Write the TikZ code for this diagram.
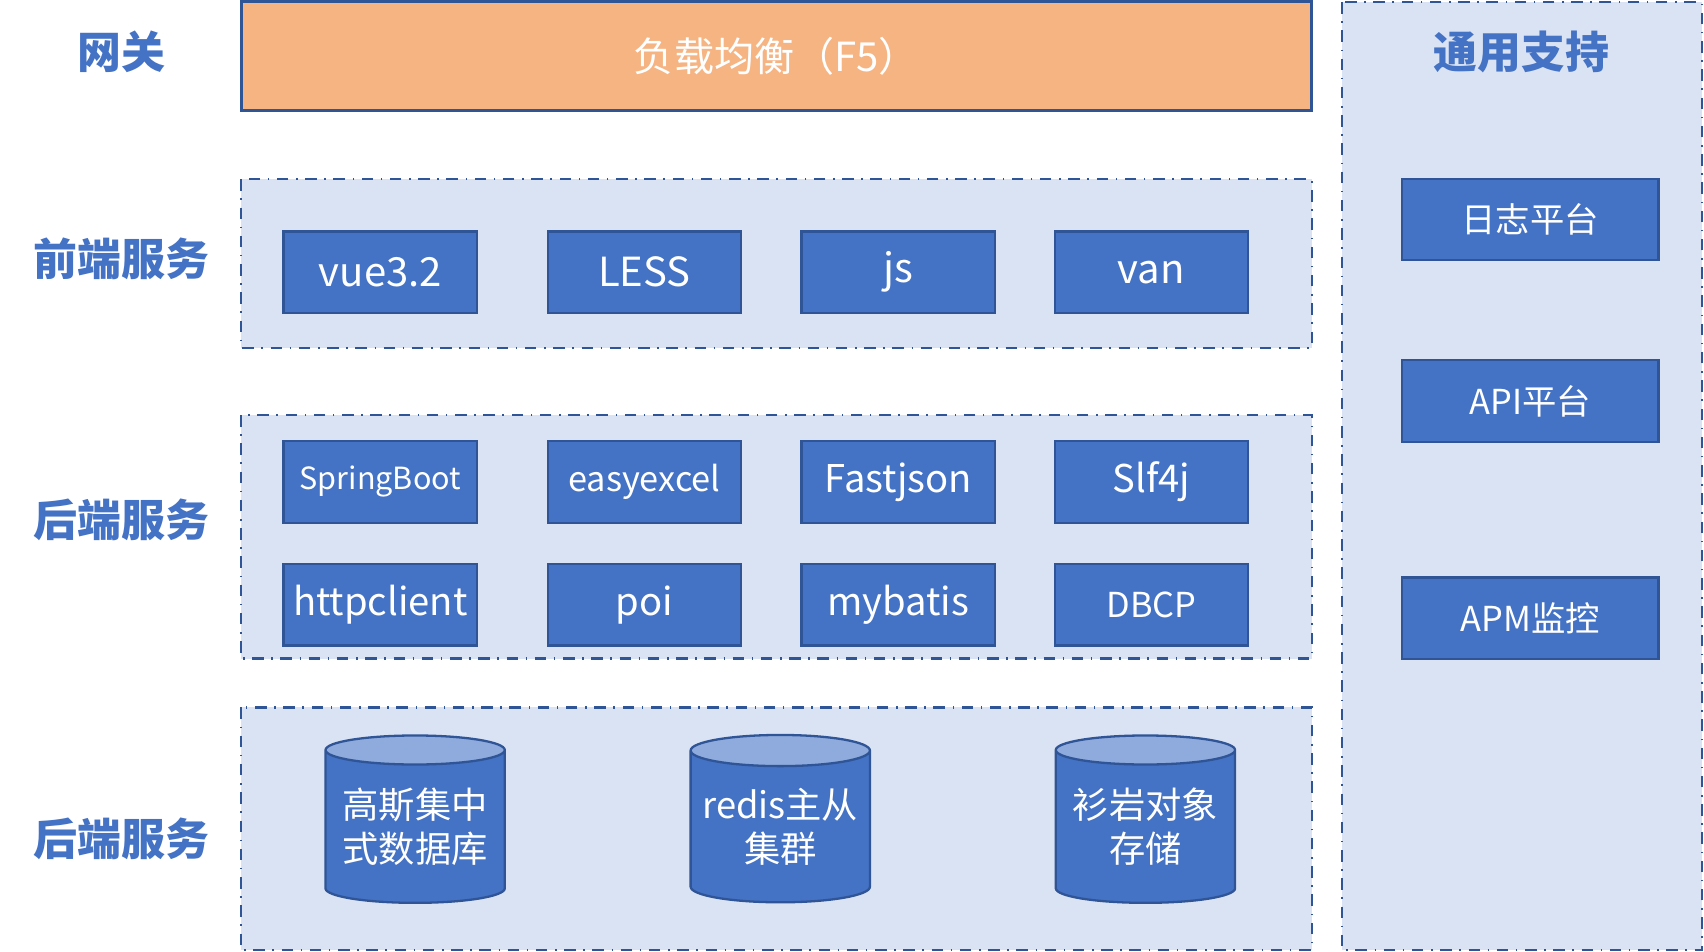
\documentclass[tikz,border=0pt]{standalone}
\usepackage{fontspec}
\setmainfont{Noto Sans CJK SC}
\usetikzlibrary{shapes.geometric}
\definecolor{edge}{HTML}{2F5597}
\definecolor{fillblue}{HTML}{4472C4}
\definecolor{pale}{HTML}{DAE3F3}
\definecolor{topblue}{HTML}{8FAADC}
\definecolor{orange}{HTML}{F5B482}

\begin{document}
\begin{tikzpicture}[x=1cm,y=-1cm,
  group/.style={draw=edge,fill=pale,dash dot,line width=0.6pt},
  item/.style={draw=edge,fill=fillblue,text=white,line width=0.6pt,minimum width=1.78cm,minimum height=0.75cm,font=\fontsize{9}{10}\selectfont,inner sep=0pt},
  side/.style={item,minimum width=2.36cm},
  layer/.style={text=fillblue,font=\fontsize{11.5}{12}\bfseries\selectfont},
  store/.style={cylinder,shape border rotate=90,aspect=0.2,draw=edge,line width=0.6pt,cylinder uses custom fill,cylinder body fill=fillblue,cylinder end fill=topblue,text=white,minimum width=1.65cm,minimum height=1.54cm,align=center,font=\fontsize{9.5}{11.5}\selectfont,inner sep=0pt}]
\useasboundingbox (0,0) rectangle (15.68,8.76);

% support column
\draw[group] (12.35,0.02) rectangle (15.66,8.74);
\node[layer] (support) at (14.0,0.48) {通用支持};
\node[side] (log) at (14.08,2.02) {日志平台};
\node[side] (api) at (14.08,3.69) {API平台};
\node[side] (apm) at (14.08,5.69) {APM监控};

% gateway
\node[layer] (gw) at (1.12,0.48) {网关};
\draw[draw=edge,fill=orange,line width=0.8pt] (2.22,0.01) rectangle (12.07,1.02);
\node[text=white,font=\fontsize{10.5}{12}\selectfont] (f5) at (7.145,0.52) {负载均衡（F5）};

% frontend
\draw[group] (2.22,1.65) rectangle (12.07,3.20);
\node[layer] (fe) at (1.12,2.38) {前端服务};
\node[item,font=\fontsize{10.5}{12}\selectfont] (vue) at (3.50,2.505) {vue3.2};
\node[item,font=\fontsize{10.5}{12}\selectfont] (less) at (5.93,2.505) {LESS};
\node[item,font=\fontsize{10.5}{12}\selectfont] (js) at (8.265,2.505) {js};
\node[item,font=\fontsize{10.5}{12}\selectfont] (van) at (10.595,2.505) {van};

% backend
\draw[group] (2.22,3.82) rectangle (12.07,6.06);
\node[layer] (be) at (1.12,4.78) {后端服务};
\node[item,font=\fontsize{8}{10}\selectfont] (boot) at (3.50,4.435) {SpringBoot};
\node[item] (excel) at (5.93,4.435) {easyexcel};
\node[item,font=\fontsize{10}{12}\selectfont] (json) at (8.265,4.435) {Fastjson};
\node[item,font=\fontsize{10}{12}\selectfont] (slf) at (10.595,4.435) {Slf4j};
\node[item,font=\fontsize{10}{12}\selectfont] (http) at (3.50,5.565) {httpclient};
\node[item,font=\fontsize{10}{12}\selectfont] (poi) at (5.93,5.565) {poi};
\node[item,font=\fontsize{10}{12}\selectfont] (mybatis) at (8.265,5.565) {mybatis};
\node[item] (dbcp) at (10.595,5.565) {DBCP};

% storage
\draw[group] (2.22,6.51) rectangle (12.07,8.74);
\node[layer] (db) at (1.12,7.72) {后端服务};
\node[store] (gauss) at (3.82,7.61) {高斯集中\\式数据库};
\node[store] (redis) at (7.18,7.61) {redis主从\\集群};
\node[store] (oss) at (10.54,7.61) {衫岩对象\\存储};
\end{tikzpicture}
\end{document}
